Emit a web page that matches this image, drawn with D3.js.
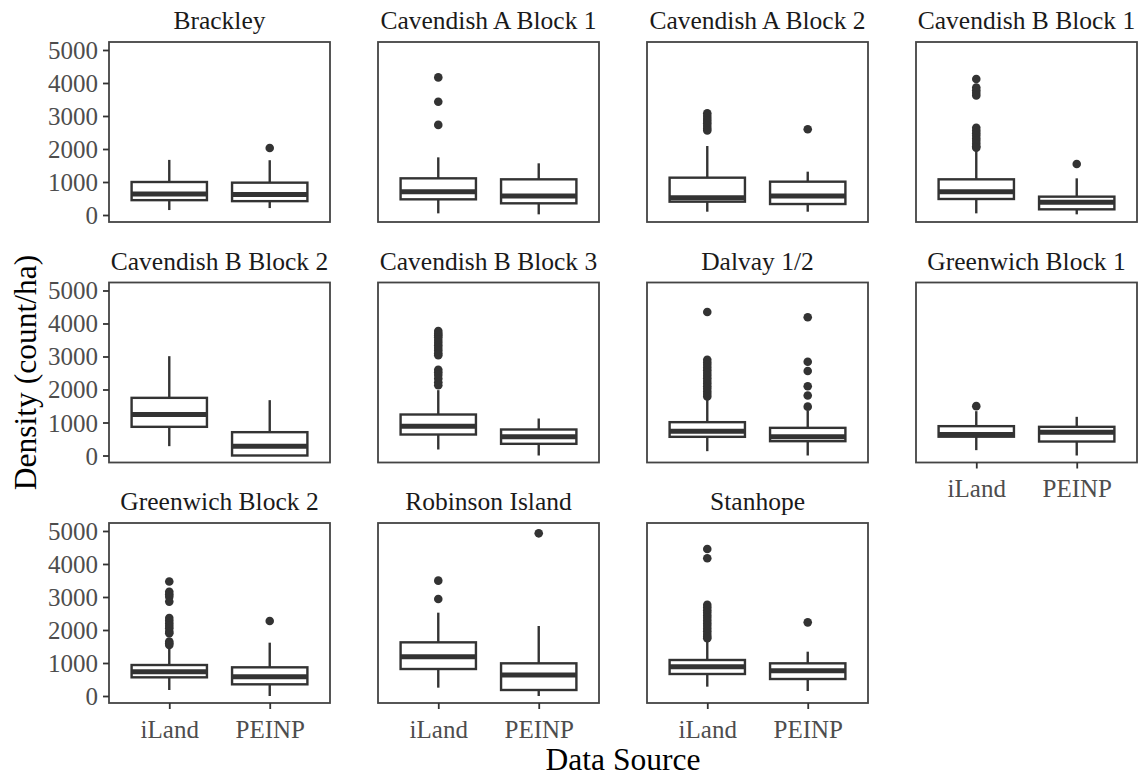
<!DOCTYPE html>
<html>
<head>
<meta charset="utf-8">
<script src="https://cdn.jsdelivr.net/npm/d3@7"></script>
<style>
  body { margin: 0; background: #ffffff; }
  svg { display: block; }
</style>
</head>
<body>
<svg id="chart" width="1139" height="778"></svg>
<script>
// Tree density per site, by data source (box-plot summaries, count/ha)
const sites = [
  "Brackley", "Cavendish A Block 1", "Cavendish A Block 2", "Cavendish B Block 1",
  "Cavendish B Block 2", "Cavendish B Block 3", "Dalvay 1/2", "Greenwich Block 1",
  "Greenwich Block 2", "Robinson Island", "Stanhope"
];
const sources = ["iLand", "PEINP"];

// Each entry: [iLand, PEINP]
const lowerWhisker = [[150, 210], [50, 20], [100, 100], [50, 20], [283, 0], [182, 0], [131, 0], [162, 0], [182, 0], [253, 0], [283, 152]];
const lowerQuartile = [[450, 420], [475, 354], [404, 333], [485, 172], [869, 0], [636, 354], [566, 434], [570, 424], [566, 354], [818, 182], [667, 515]];
const medianValue = [[640, 620], [707, 575], [525, 575], [707, 384], [1242, 283], [889, 566], [737, 566], [640, 707], [737, 586], [1192, 636], [889, 768]];
const upperQuartile = [[1000, 980], [1111, 1081], [1131, 1010], [1081, 556], [1747, 707], [1242, 788], [1010, 838], [889, 869], [939, 869], [1626, 990], [1091, 990]];
const upperWhisker = [[1670, 1660], [1747, 1566], [2090, 1313], [1950, 1111], [3010, 1677], [1980, 1121], [1700, 1350], [1343, 1172], [1500, 1616], [2525, 2121], [1650, 1343]];
const outliers = [
  [[], [2030]],
  [[4170, 3430, 2730], []],
  [[3080, 3000, 2920, 2850, 2780, 2700, 2620, 2560], [2600]],
  [[4120, 3860, 3780, 3700, 3620, 2640, 2560, 2480, 2400, 2320, 2240, 2160, 2080, 2040], [1545]],
  [[], []],
  [[3770, 3700, 3640, 3580, 3500, 3420, 3340, 3260, 3180, 3100, 3040, 2600, 2520, 2440, 2330, 2220, 2130], []],
  [[4350, 2900, 2820, 2740, 2660, 2580, 2500, 2420, 2340, 2260, 2180, 2100, 2020, 1940, 1860, 1790], [4190, 2840, 2560, 2100, 1820, 1480]],
  [[1495], []],
  [[3470, 3160, 3080, 3010, 2860, 2360, 2280, 2200, 2120, 2050, 1950, 1900, 1650, 1600, 1545], [2273]],
  [[3495, 2939], [4929]],
  [[4454, 4172, 2760, 2680, 2600, 2520, 2440, 2360, 2280, 2200, 2120, 2040, 1960, 1880, 1800, 1750], [2232]]
];
const yTicks = [0, 1000, 2000, 3000, 4000, 5000];
const yLimits = [-212, 5242];

// Layout
const nCols = 4;
const panelW = 221, panelH = 180;
const left0 = 109, top0 = 42;
const colStep = 269, rowStep = 240.5;
const ink = "#333333";
const serif = "'Liberation Serif', 'Times New Roman', serif";

const svg = d3.select("#chart");

const x = d3.scalePoint().domain(sources).range([0, panelW]).padding(0.6);
const y = d3.scaleLinear().domain(yLimits).range([panelH, 0]);
const boxW = x.step() * 0.75;

const nPanels = sites.length;
const nRows = Math.ceil(nPanels / nCols);

sites.forEach((site, i) => {
  const col = i % nCols, row = Math.floor(i / nCols);
  const g = svg.append("g")
    .attr("transform", `translate(${left0 + col * colStep},${top0 + row * rowStep})`);

  // facet title
  g.append("text")
    .attr("x", panelW / 2).attr("y", -13)
    .attr("text-anchor", "middle")
    .attr("font-family", serif).attr("font-size", 25.5)
    .attr("fill", "#1a1a1a")
    .text(site);

  // boxes
  sources.forEach((src, k) => {
    const cx = x(src);
    const lo = lowerWhisker[i][k], q1 = lowerQuartile[i][k], md = medianValue[i][k],
          q3 = upperQuartile[i][k], hi = upperWhisker[i][k];
    const bg = g.append("g");
    bg.append("line").attr("x1", cx).attr("x2", cx).attr("y1", y(q3)).attr("y2", y(hi))
      .attr("stroke", ink).attr("stroke-width", 2.4);
    bg.append("line").attr("x1", cx).attr("x2", cx).attr("y1", y(q1)).attr("y2", y(lo))
      .attr("stroke", ink).attr("stroke-width", 2.4);
    bg.append("rect")
      .attr("x", cx - boxW / 2).attr("width", boxW)
      .attr("y", y(q3)).attr("height", Math.max(0, y(q1) - y(q3)))
      .attr("fill", "#ffffff").attr("stroke", ink).attr("stroke-width", 2.4);
    bg.append("line").attr("x1", cx - boxW / 2).attr("x2", cx + boxW / 2)
      .attr("y1", y(md)).attr("y2", y(md))
      .attr("stroke", ink).attr("stroke-width", 5);
    bg.selectAll("circle").data(outliers[i][k]).join("circle")
      .attr("cx", cx).attr("cy", d => y(d)).attr("r", 4.3)
      .attr("fill", ink);
  });

  // panel border
  g.append("rect").attr("width", panelW).attr("height", panelH)
    .attr("fill", "none").attr("stroke", "#444444").attr("stroke-width", 1.8);

  // y axis on first column
  if (col === 0) {
    const ax = g.append("g")
      .call(d3.axisLeft(y).tickValues(yTicks).tickFormat(d3.format("d"))
        .tickSize(6).tickPadding(5).tickSizeOuter(0));
    ax.select(".domain").remove();
    ax.selectAll(".tick line").attr("stroke", ink).attr("stroke-width", 1.8);
    ax.selectAll(".tick text").attr("font-family", serif).attr("font-size", 25)
      .attr("fill", "#4d4d4d").attr("dy", "0.34em");
  }
  // x axis on the lowest panel of each column
  if (i + nCols >= nPanels) {
    const ax = g.append("g").attr("transform", `translate(0,${panelH})`)
      .call(d3.axisBottom(x).tickSize(6).tickPadding(5).tickSizeOuter(0));
    ax.select(".domain").remove();
    ax.selectAll(".tick line").attr("stroke", ink).attr("stroke-width", 1.8);
    ax.selectAll(".tick text").attr("font-family", serif).attr("font-size", 25)
      .attr("fill", "#4d4d4d").attr("dy", "0.95em");
  }
});

// axis titles
const plotBottom = top0 + (nRows - 1) * rowStep + panelH;
svg.append("text")
  .attr("transform", `translate(36,${(top0 + plotBottom) / 2}) rotate(-90)`)
  .attr("text-anchor", "middle")
  .attr("font-family", serif).attr("font-size", 31.5).attr("fill", "#000")
  .text("Density (count/ha)");
svg.append("text")
  .attr("x", left0 + (3 * colStep + panelW) / 2).attr("y", 770)
  .attr("text-anchor", "middle")
  .attr("font-family", serif).attr("font-size", 31.5).attr("fill", "#000")
  .text("Data Source");
</script>
</body>
</html>
